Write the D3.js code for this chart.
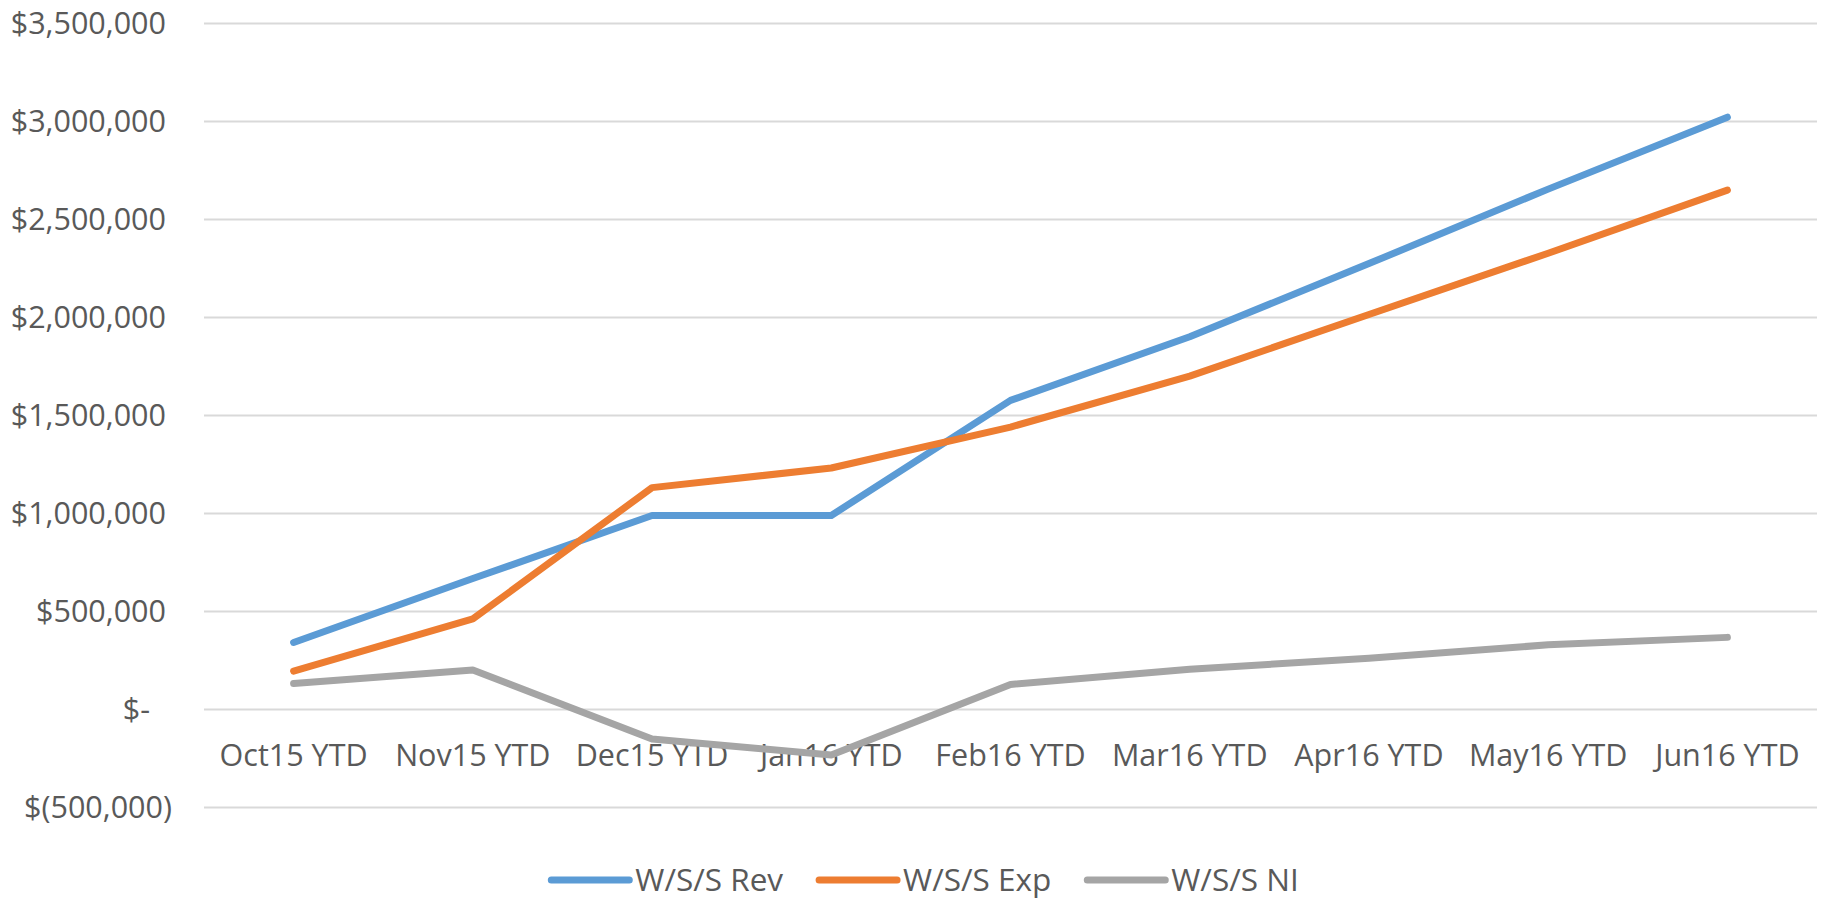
<!DOCTYPE html>
<html>
<head>
<meta charset="utf-8">
<script src="https://cdn.jsdelivr.net/npm/d3@7"></script>
<style>
  body { margin: 0; background: #fff; }
  text { font-family: "Open Sans", sans-serif; fill: #595959; }
</style>
</head>
<body>
<div id="viz"></div>
<script>
const categories = ["Oct15 YTD", "Nov15 YTD", "Dec15 YTD", "Jan16 YTD", "Feb16 YTD",
                    "Mar16 YTD", "Apr16 YTD", "May16 YTD", "Jun16 YTD"];
const revValues = [342000, 668000, 990000, 990000, 1577000, 1902000, 2275000, 2655000, 3022000];
const expValues = [196000, 462000, 1132000, 1232000, 1441000, 1701000, 2015000, 2328000, 2650000];
const niValues  = [133000, 201000, -150000, -232000, 128000, 205000, 262000, 330000, 368000];
const yTicks = [-500000, 0, 500000, 1000000, 1500000, 2000000, 2500000, 3000000, 3500000];
const seriesNames = ["W/S/S Rev", "W/S/S Exp", "W/S/S NI"];
const colors = ["#5B9BD5", "#ED7D31", "#A5A5A5"];

const width = 1821, height = 899;
const svg = d3.select("#viz").append("svg")
  .attr("width", width)
  .attr("height", height);

const x = d3.scalePoint()
  .domain(categories)
  .range([204, 1817])
  .padding(0.5);

const y = d3.scaleLinear()
  .domain([-500000, 3500000])
  .range([807.5, 23.5]);

const fmt = d3.format(",");
function money(v) {
  if (v === 0) return "$-";
  if (v < 0) return "$(" + fmt(-v) + ")";
  return "$" + fmt(v);
}

// gridlines
svg.append("g")
  .selectAll("line")
  .data(yTicks)
  .join("line")
    .attr("x1", 204)
    .attr("x2", 1817)
    .attr("y1", d => y(d))
    .attr("y2", d => y(d))
    .style("stroke", "#d9d9d9")
    .style("stroke-width", 2);

// y labels (accounting style alignment)
svg.append("g")
  .selectAll("text")
  .data(yTicks)
  .join("text")
    .attr("x", d => d < 0 ? 172 : d === 0 ? 150 : 166)
    .attr("y", d => y(d))
    .attr("dy", "0.35em")
    .attr("text-anchor", "end")
    .style("font-size", "30.5px")
    .text(money);

// x labels
svg.append("g")
  .selectAll("text")
  .data(categories)
  .join("text")
    .attr("x", d => x(d))
    .attr("y", 755)
    .attr("dy", "0.35em")
    .attr("text-anchor", "middle")
    .style("font-size", "30.5px")
    .text(d => d);

const allSeries = [revValues, expValues, niValues];
const line = d3.line()
  .x((d, i) => x(categories[i]))
  .y(d => y(d));

allSeries.forEach((vals, i) => {
  svg.append("path")
    .datum(vals)
    .attr("d", line)
    .style("fill", "none")
    .style("stroke", colors[i])
    .style("stroke-width", 7)
    .style("stroke-linejoin", "round")
    .style("stroke-linecap", "round");
});

// legend
const legend = svg.append("g");
const legendY = 880;
let lx = 0;
seriesNames.forEach((name, i) => {
  const item = legend.append("g").attr("transform", `translate(${lx},0)`);
  item.append("line")
    .attr("x1", 0).attr("x2", 78)
    .attr("y1", legendY).attr("y2", legendY)
    .style("stroke", colors[i])
    .style("stroke-width", 7)
    .style("stroke-linecap", "round");
  const t = item.append("text")
    .attr("x", 84)
    .attr("y", legendY)
    .attr("dy", "0.35em")
    .style("font-size", "31.5px")
    .text(name);
  lx += 84 + t.node().getComputedTextLength() + 36;
});
const legendW = lx - 36;
legend.attr("transform", `translate(${925 - legendW / 2},0)`);
</script>
</body>
</html>
